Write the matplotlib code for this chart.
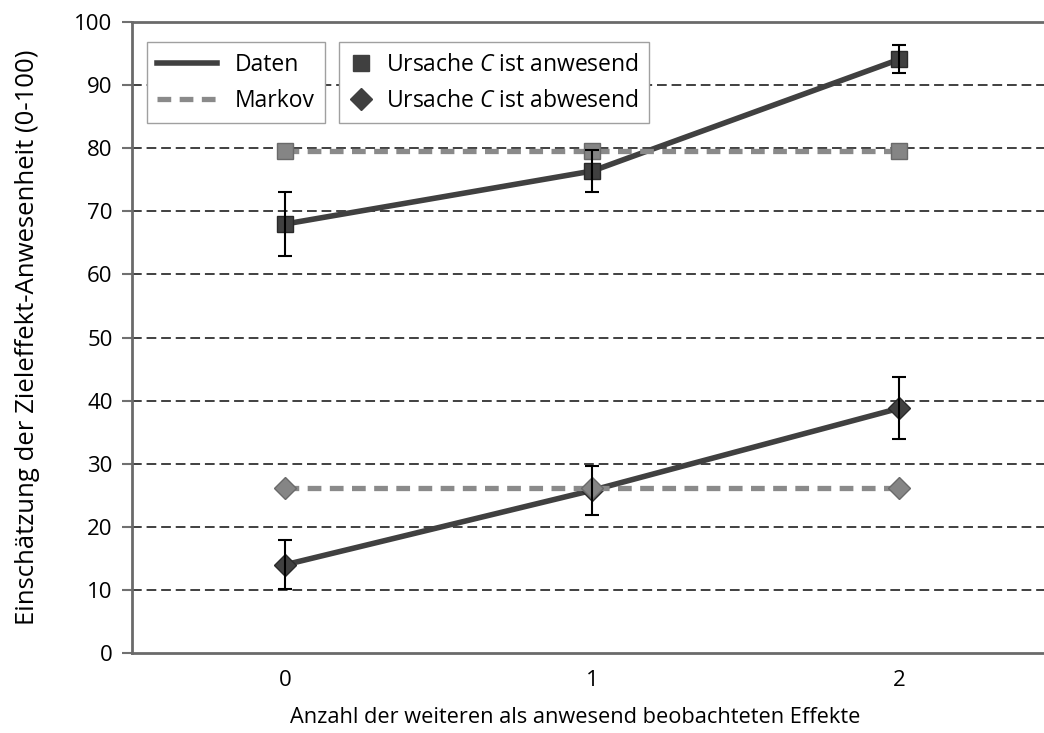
import matplotlib.pyplot as plt
from matplotlib.lines import Line2D

plt.rcParams["font.family"] = ["Open Sans", "DejaVu Sans"]
plt.rcParams["mathtext.fontset"] = "custom"
plt.rcParams["mathtext.it"] = "Open Sans:italic"
plt.rcParams["mathtext.rm"] = "Open Sans"

effects = [0, 1, 2]
tick_labels = ["0", "1", "2"]

present_data = [68.0, 76.4, 94.1]
present_err = [5.1, 3.3, 2.2]
absent_data = [14.0, 25.8, 38.8]
absent_err = [3.9, 3.85, 4.9]

markov_present = [79.6, 79.6, 79.6]
markov_absent = [26.1, 26.1, 26.1]

dark = "#404040"
grey = "#8a8a8a"

fig = plt.figure(figsize=(10.44, 7.33), dpi=100)
ax = fig.add_axes([0.1264, 0.1091, 0.8822, 0.8608])

for y in range(10, 100, 10):
    ax.axhline(y, color="#404040", lw=1.4, ls=(0, (5, 2.5)), zorder=1)

# data lines
ax.plot(effects, present_data, color=dark, lw=4, zorder=3)
ax.plot(effects, absent_data, color=dark, lw=4, zorder=3)
ax.plot(effects, present_data, ls="none", marker="s", ms=12,
        mfc=dark, mec="#2a2a2a", mew=1, zorder=4)
ax.plot(effects, absent_data, ls="none", marker="D", ms=11,
        mfc=dark, mec="#2a2a2a", mew=1, zorder=4)

# markov lines
ax.plot(effects, markov_present, color=grey, lw=3.8, ls=(0, (2.6, 1.6)),
        marker="s", ms=12, mfc="#858585", mec="#6a6a6a", mew=1, zorder=5)
ax.plot(effects, markov_absent, color=grey, lw=3.8, ls=(0, (2.6, 1.6)),
        marker="D", ms=11, mfc="#858585", mec="#6a6a6a", mew=1, zorder=5)

# error bars
ax.errorbar(effects, present_data, yerr=present_err, fmt="none",
            ecolor="black", elinewidth=1.5, capsize=5, capthick=1.5, zorder=6)
ax.errorbar(effects, absent_data, yerr=absent_err, fmt="none",
            ecolor="black", elinewidth=1.5, capsize=5, capthick=1.5, zorder=6)

ax.set_xlim(-0.5, 2.5)
ax.set_ylim(0, 100)
ax.set_yticks(range(0, 101, 10))
ax.set_xticks(effects)
ax.set_xticklabels(tick_labels)
ax.tick_params(axis="y", length=7, width=1.5, color="#707070",
               labelsize=16, pad=7)
ax.tick_params(axis="x", length=0, labelsize=16, pad=12)

for side in ["left", "bottom", "top"]:
    ax.spines[side].set_color("#6a6a6a")
    ax.spines[side].set_linewidth(2)
ax.spines["right"].set_visible(False)

ax.set_xlabel("Anzahl der weiteren als anwesend beobachteten Effekte",
              fontsize=15.7, labelpad=12)
ax.xaxis.set_label_coords(0.481, -0.085)
ax.set_ylabel("Einschätzung der Zieleffekt-Anwesenheit (0-100)",
              fontsize=18.5, labelpad=25)

h1 = [Line2D([], [], color=dark, lw=4),
      Line2D([], [], color=grey, lw=3.8, ls=(0, (2.6, 1.6)))]
leg1 = ax.legend(h1, ["Daten", "Markov"], loc="upper left",
                 bbox_to_anchor=(0.0163, 0.968), borderaxespad=0,
                 fontsize=16.5, fancybox=False, framealpha=1,
                 edgecolor="#a0a0a0", handlelength=2.6, borderpad=0.45,
                 labelspacing=0.55, handletextpad=0.8)
ax.add_artist(leg1)
h2 = [Line2D([], [], ls="none", marker="s", ms=12, mfc=dark, mec=dark),
      Line2D([], [], ls="none", marker="D", ms=11, mfc=dark, mec=dark)]
leg2 = ax.legend(h2, ["Ursache $\\mathit{C}$ ist anwesend",
                      "Ursache $\\mathit{C}$ ist abwesend"],
                 loc="upper left", bbox_to_anchor=(0.2248, 0.968),
                 borderaxespad=0, fontsize=16.5, fancybox=False,
                 framealpha=1, edgecolor="#a0a0a0", handlelength=1.0,
                 borderpad=0.45, labelspacing=0.55, handletextpad=0.6)
leg1.set_zorder(10)
leg2.set_zorder(10)

fig.savefig("out.png", dpi=100)
